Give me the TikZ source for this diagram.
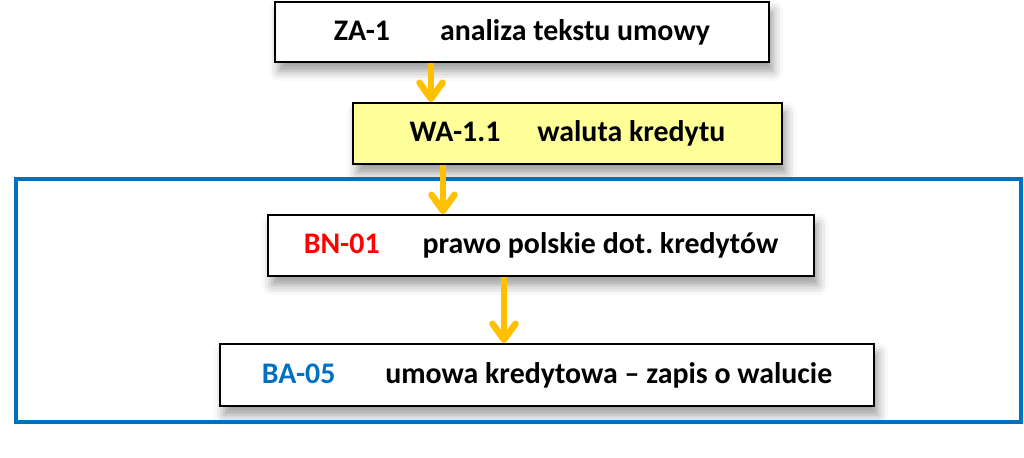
\documentclass[tikz,border=0pt]{standalone}
\usepackage{fontspec}
\setmainfont{Carlito}
\usetikzlibrary{arrows.meta,shadows.blur}
\definecolor{gold}{HTML}{FFC000}
\definecolor{frameblue}{HTML}{0070C0}
\definecolor{paleyellow}{HTML}{FFFF99}
\begin{document}
\begin{tikzpicture}[x=0.02cm,y=-0.02cm,>={Straight Barb[length=0.32cm,width=0.46cm,round]},
  box/.style={draw,line width=0.04cm,fill=white,inner sep=0pt,font=\bfseries\fontsize{17}{19}\selectfont,
    blur shadow={shadow xshift=0.08cm,shadow yshift=-0.18cm,shadow blur radius=0.2cm,shadow opacity=40}},
  flow/.style={->,draw=gold,line width=0.13cm}]
\useasboundingbox (0,0) rectangle (1024,457);
\node[box,minimum width=9.88cm,minimum height=1.2cm] (za) at (522,32) {ZA-1\hspace{1cm}analiza tekstu umowy};
\node[box,fill=paleyellow,minimum width=8.58cm,minimum height=1.22cm] (wa) at (567.5,133.5) {WA-1.1\hspace{0.74cm}waluta kredytu};
\node[box,minimum width=10.92cm,minimum height=1.22cm] (bn) at (541,245.5) {\textcolor{red}{BN-01}\hspace{0.86cm}prawo polskie dot.\ kredytów};
\node[box,minimum width=13.08cm,minimum height=1.24cm] (ba) at (547,375) {\textcolor{frameblue}{BA-05}\hspace{1cm}umowa kredytowa -- zapis o walucie};
\draw[frameblue,line width=0.08cm] (16,179) rectangle (1021,422);
\coordinate (a1) at (431,0);
\coordinate (a2) at (443,0);
\coordinate (a3) at (504,0);
\draw[flow] (za.south -| a1) -- (wa.north -| a1);
\draw[flow] (wa.south -| a2) -- (bn.north -| a2);
\draw[flow] (bn.south -| a3) -- (ba.north -| a3);
\end{tikzpicture}
\end{document}
